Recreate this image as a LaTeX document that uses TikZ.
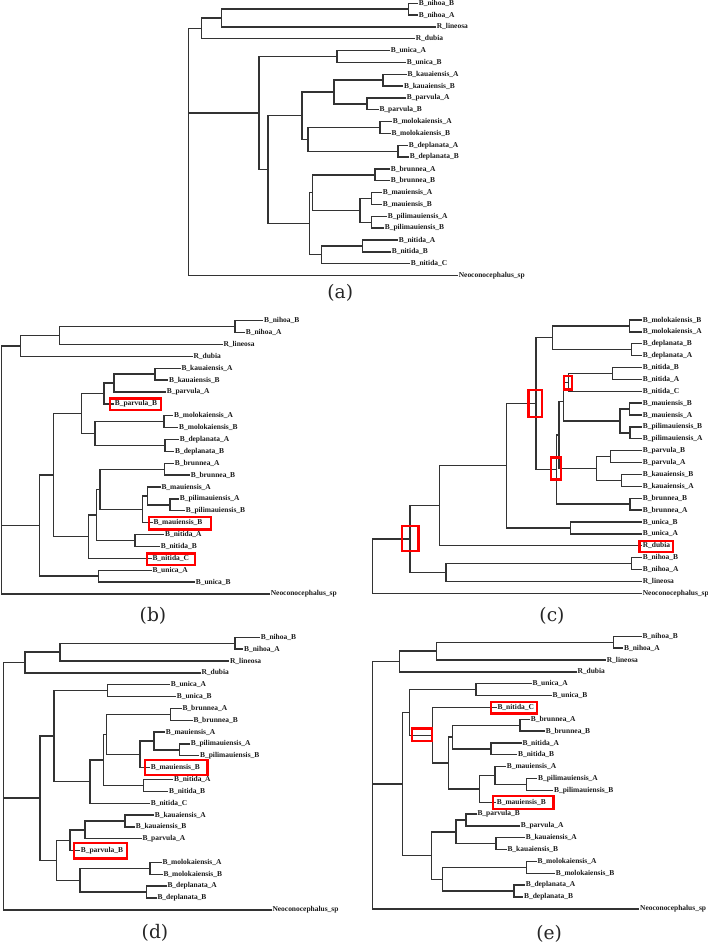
\documentclass[tikz,border=0pt]{standalone}
\usepackage{fontspec}
\setmainfont{Liberation Serif}
\newfontfamily\capfont{DejaVu Serif}
\usetikzlibrary{calc,fit}
\tikzset{
 br/.style={draw=black!80, line width=1pt},
 leaf/.style={anchor=west, inner sep=0.4pt, font=\bfseries\fontsize{5.6}{6}\selectfont, text=black!90},
 redbox/.style={draw=red, line width=1.8pt},
 captext/.style={font=\capfont\fontsize{14}{16}\selectfont, text=black!85},
}
\newcommand\lf[4]{\node[leaf] (#1) at (#3,{\Y+\D*#2}) {#4};}
\newcommand\cladenode[4]{%
 \coordinate (tmpx) at (#2,0);
 \coordinate (tmpm) at ($(#3)!.5!(#4)$);
 \coordinate (#1) at (tmpm -| tmpx);
 \draw[br] (#1) |- (#3) (#1) |- (#4);}
\begin{document}
\begin{tikzpicture}[x=0.75pt,y=-0.75pt]
\path[use as bounding box] (0,0) rectangle (707,945);
% ---------------- (a)
\def\Y{3.2}\def\D{11.84}
\lf{a0}{0}{418}{B\_nihoa\_B}
\lf{a1}{1}{418}{B\_nihoa\_A}
\lf{a2}{2}{436}{R\_lineosa}
\lf{a3}{3}{415}{R\_dubia}
\lf{a4}{4}{390}{B\_unica\_A}
\lf{a5}{5}{406}{B\_unica\_B}
\lf{a6}{6}{406.7}{B\_kauaiensis\_A}
\lf{a7}{7}{403.3}{B\_kauaiensis\_B}
\lf{a8}{8}{406}{B\_parvula\_A}
\lf{a9}{9}{378.7}{B\_parvula\_B}
\lf{a10}{10}{392}{B\_molokaiensis\_A}
\lf{a11}{11}{390.7}{B\_molokaiensis\_B}
\lf{a12}{12}{408}{B\_deplanata\_A}
\lf{a13}{13}{409}{B\_deplanata\_B}
\lf{a14}{14}{390}{B\_brunnea\_A}
\lf{a15}{15}{390}{B\_brunnea\_B}
\lf{a16}{16}{382}{B\_mauiensis\_A}
\lf{a17}{17}{382}{B\_mauiensis\_B}
\lf{a18}{18}{387}{B\_pilimauiensis\_A}
\lf{a19}{19}{384}{B\_pilimauiensis\_B}
\lf{a20}{20}{398}{B\_nitida\_A}
\lf{a21}{21}{391}{B\_nitida\_B}
\lf{a22}{22}{410}{B\_nitida\_C}
\lf{a23}{23}{458}{Neoconocephalus\_sp}
\cladenode{a-nih}{408.3}{a0}{a1}
\cladenode{a-nl}{221.7}{a-nih}{a2}
\cladenode{a-og}{201.7}{a-nl}{a3}
\cladenode{a-uni}{337}{a4}{a5}
\cladenode{a-kau}{383}{a6}{a7}
\cladenode{a-par}{367}{a8}{a9}
\cladenode{a-kp}{334}{a-kau}{a-par}
\cladenode{a-mol}{380}{a10}{a11}
\cladenode{a-dep}{398}{a12}{a13}
\cladenode{a-md}{308}{a-mol}{a-dep}
\cladenode{a-x}{302}{a-kp}{a-md}
\cladenode{a-bru}{375}{a14}{a15}
\cladenode{a-mau}{371.7}{a16}{a17}
\cladenode{a-pil}{371.7}{a18}{a19}
\cladenode{a-mp}{360}{a-mau}{a-pil}
\cladenode{a-q}{312.7}{a-bru}{a-mp}
\cladenode{a-nit}{362.7}{a20}{a21}
\cladenode{a-nc}{321.7}{a-nit}{a22}
\cladenode{a-p}{309.3}{a-q}{a-nc}
\cladenode{a-l}{268}{a-x}{a-p}
\cladenode{a-ing}{259}{a-uni}{a-l}
\cladenode{a-root}{188.3}{a-og}{a23}
\draw[br] (a-root) |- (a-ing);
\node[captext] (a-cap) at (340.3,293.3) {(a)};
% ---------------- (b)
\def\Y{320.7}\def\D{11.88}
\lf{b0}{0}{263.3}{B\_nihoa\_B}
\lf{b1}{1}{245}{B\_nihoa\_A}
\lf{b2}{2}{222.7}{R\_lineosa}
\lf{b3}{3}{192.7}{R\_dubia}
\lf{b4}{4}{180.7}{B\_kauaiensis\_A}
\lf{b5}{5}{168.3}{B\_kauaiensis\_B}
\lf{b6}{6}{166}{B\_parvula\_A}
\lf{b7}{7}{114}{B\_parvula\_B}
\lf{b8}{8}{173.3}{B\_molokaiensis\_A}
\lf{b9}{9}{178.3}{B\_molokaiensis\_B}
\lf{b10}{10}{179}{B\_deplanata\_A}
\lf{b11}{11}{174.3}{B\_deplanata\_B}
\lf{b12}{12}{174}{B\_brunnea\_A}
\lf{b13}{13}{190}{B\_brunnea\_B}
\lf{b14}{14}{160.7}{B\_mauiensis\_A}
\lf{b15}{15}{179}{B\_pilimauiensis\_A}
\lf{b16}{16}{185}{B\_pilimauiensis\_B}
\lf{b17}{17}{152.7}{B\_mauiensis\_B}
\lf{b18}{18}{164.3}{B\_nitida\_A}
\lf{b19}{19}{160}{B\_nitida\_B}
\lf{b20}{20}{151.7}{B\_nitida\_C}
\lf{b21}{21}{151.7}{B\_unica\_A}
\lf{b22}{22}{195}{B\_unica\_B}
\lf{b23}{23}{270}{Neoconocephalus\_sp}
\cladenode{b-nih}{235}{b0}{b1}
\cladenode{b-nl}{59.3}{b-nih}{b2}
\cladenode{b-og}{20.7}{b-nl}{b3}
\cladenode{b-kau}{155}{b4}{b5}
\cladenode{b-kp}{114}{b-kau}{b6}
\cladenode{b-kpp}{104}{b-kp}{b7}
\cladenode{b-mol}{164}{b8}{b9}
\cladenode{b-dep}{165}{b10}{b11}
\cladenode{b-md}{95}{b-mol}{b-dep}
\cladenode{b-a1}{81.7}{b-kpp}{b-md}
\cladenode{b-bru}{164.3}{b12}{b13}
\cladenode{b-pil}{170}{b15}{b16}
\cladenode{b-u}{147.7}{b14}{b-pil}
\cladenode{b-t}{142.7}{b-u}{b17}
\cladenode{b-s}{100}{b-bru}{b-t}
\cladenode{b-nit}{135}{b18}{b19}
\cladenode{b-r}{96.7}{b-s}{b-nit}
\cladenode{b-r2}{88.3}{b-r}{b20}
\cladenode{b-big}{53.3}{b-a1}{b-r2}
\cladenode{b-uni}{98.3}{b21}{b22}
\cladenode{b-ing}{39.3}{b-big}{b-uni}
\cladenode{b-root}{1.7}{b-og}{b23}
\draw[br] (b-root) |- (b-ing);
\draw[redbox] (110,398.3) rectangle (161,410);
\draw[redbox] (149,516.7) rectangle (210.7,529.3);
\draw[redbox] (146.7,553.3) rectangle (195,565);
\node[captext] (b-cap) at (153,616) {(b)};
% ---------------- (c)
\def\Y{320}\def\D{11.88}
\lf{c0}{0}{642}{B\_molokaiensis\_B}
\lf{c1}{1}{642}{B\_molokaiensis\_A}
\lf{c2}{2}{642}{B\_deplanata\_B}
\lf{c3}{3}{642}{B\_deplanata\_A}
\lf{c4}{4}{642}{B\_nitida\_B}
\lf{c5}{5}{642}{B\_nitida\_A}
\lf{c6}{6}{642}{B\_nitida\_C}
\lf{c7}{7}{642}{B\_mauiensis\_B}
\lf{c8}{8}{642}{B\_mauiensis\_A}
\lf{c9}{9}{642}{B\_pilimauiensis\_B}
\lf{c10}{10}{642}{B\_pilimauiensis\_A}
\lf{c11}{11}{642}{B\_parvula\_B}
\lf{c12}{12}{642}{B\_parvula\_A}
\lf{c13}{13}{642}{B\_kauaiensis\_B}
\lf{c14}{14}{642}{B\_kauaiensis\_A}
\lf{c15}{15}{642}{B\_brunnea\_B}
\lf{c16}{16}{642}{B\_brunnea\_A}
\lf{c17}{17}{642}{B\_unica\_B}
\lf{c18}{18}{642}{B\_unica\_A}
\lf{c19}{19}{642}{R\_dubia}
\lf{c20}{20}{642}{B\_nihoa\_B}
\lf{c21}{21}{642}{B\_nihoa\_A}
\lf{c22}{22}{642}{R\_lineosa}
\lf{c23}{23}{642}{Neoconocephalus\_sp}
\cladenode{c-mol}{629.3}{c0}{c1}
\cladenode{c-dep}{631.7}{c2}{c3}
\cladenode{c-md}{552.7}{c-mol}{c-dep}
\cladenode{c-nab}{612.3}{c4}{c5}
\cladenode{c-nit}{568.3}{c-nab}{c6}
\cladenode{c-mau}{629.3}{c7}{c8}
\cladenode{c-pil}{630}{c9}{c10}
\cladenode{c-mp}{620}{c-mau}{c-pil}
\cladenode{c-m}{563.3}{c-nit}{c-mp}
\cladenode{c-par}{610.7}{c11}{c12}
\cladenode{c-kau}{621.7}{c13}{c14}
\cladenode{c-pk}{596.7}{c-par}{c-kau}
\cladenode{c-n}{559}{c-m}{c-pk}
\cladenode{c-bru}{630}{c15}{c16}
\cladenode{c-o}{556.7}{c-n}{c-bru}
\cladenode{c-v}{536}{c-md}{c-o}
\cladenode{c-uni}{570.7}{c17}{c18}
\cladenode{c-y}{506.7}{c-v}{c-uni}
\cladenode{c-z}{439.3}{c-y}{c19}
\cladenode{c-nih}{631.7}{c20}{c21}
\cladenode{c-nl}{446}{c-nih}{c22}
\cladenode{c-aa}{410}{c-z}{c-nl}
\cladenode{c-root}{372.7}{c-aa}{c23}
\draw[redbox] (528.3,390) rectangle (541.7,416.7);
\draw[redbox] (564,376) rectangle (571.7,389.3);
\draw[redbox] (550.7,457.3) rectangle (561,479.3);
\draw[redbox] (401.7,526) rectangle (418.3,550.7);
\draw[redbox] (639.3,540.7) rectangle (672.7,551.7);
\node[captext] (c-cap) at (552,616) {(c)};
% ---------------- (d)
\def\Y{637.3}\def\D{11.85}
\lf{d0}{0}{260}{B\_nihoa\_B}
\lf{d1}{1}{243.3}{B\_nihoa\_A}
\lf{d2}{2}{229.3}{R\_lineosa}
\lf{d3}{3}{200.7}{R\_dubia}
\lf{d4}{4}{170}{B\_unica\_A}
\lf{d5}{5}{176}{B\_unica\_B}
\lf{d6}{6}{181.7}{B\_brunnea\_A}
\lf{d7}{7}{192.7}{B\_brunnea\_B}
\lf{d8}{8}{165}{B\_mauiensis\_A}
\lf{d9}{9}{190}{B\_pilimauiensis\_A}
\lf{d10}{10}{199.3}{B\_pilimauiensis\_B}
\lf{d11}{11}{150}{B\_mauiensis\_B}
\lf{d12}{12}{173.3}{B\_nitida\_A}
\lf{d13}{13}{168.3}{B\_nitida\_B}
\lf{d14}{14}{150}{B\_nitida\_C}
\lf{d15}{15}{154}{B\_kauaiensis\_A}
\lf{d16}{16}{135}{B\_kauaiensis\_B}
\lf{d17}{17}{141.7}{B\_parvula\_A}
\lf{d18}{18}{80}{B\_parvula\_B}
\lf{d19}{19}{161.7}{B\_molokaiensis\_A}
\lf{d20}{20}{162.7}{B\_molokaiensis\_B}
\lf{d21}{21}{166.7}{B\_deplanata\_A}
\lf{d22}{22}{156.7}{B\_deplanata\_B}
\lf{d23}{23}{271.7}{Neoconocephalus\_sp}
\cladenode{d-nih}{235}{d0}{d1}
\cladenode{d-nl}{60}{d-nih}{d2}
\cladenode{d-og}{25}{d-nl}{d3}
\cladenode{d-uni}{107.3}{d4}{d5}
\cladenode{d-bru}{170.7}{d6}{d7}
\cladenode{d-pil}{179.3}{d9}{d10}
\cladenode{d-mp}{154}{d8}{d-pil}
\cladenode{d-m2}{140}{d-mp}{d11}
\cladenode{d-b1}{106.7}{d-bru}{d-m2}
\cladenode{d-nit}{143.3}{d12}{d13}
\cladenode{d-b2}{103.3}{d-b1}{d-nit}
\cladenode{d-b3}{90}{d-b2}{d14}
\cladenode{d-top}{54}{d-uni}{d-b3}
\cladenode{d-kau}{125}{d15}{d16}
\cladenode{d-kp}{85}{d-kau}{d17}
\cladenode{d-kpp}{70}{d-kp}{d18}
\cladenode{d-mol}{150}{d19}{d20}
\cladenode{d-dep}{146.7}{d21}{d22}
\cladenode{d-md}{80}{d-mol}{d-dep}
\cladenode{d-bot}{56.7}{d-kpp}{d-md}
\cladenode{d-ing}{40}{d-top}{d-bot}
\cladenode{d-root}{3.3}{d-og}{d23}
\draw[br] (d-root) |- (d-ing);
\draw[redbox] (145,760) rectangle (207.3,775);
\draw[redbox] (74,842.7) rectangle (126.7,858.3);
\node[captext] (d-cap) at (155,933.3) {(d)};
% ---------------- (e)
\def\Y{636.3}\def\D{11.85}
\lf{e0}{0}{641.7}{B\_nihoa\_B}
\lf{e1}{1}{623.3}{B\_nihoa\_A}
\lf{e2}{2}{606}{R\_lineosa}
\lf{e3}{3}{576.7}{R\_dubia}
\lf{e4}{4}{531.7}{B\_unica\_A}
\lf{e5}{5}{551.7}{B\_unica\_B}
\lf{e6}{6}{496.7}{B\_nitida\_C}
\lf{e7}{7}{530}{B\_brunnea\_A}
\lf{e8}{8}{545}{B\_brunnea\_B}
\lf{e9}{9}{521.7}{B\_nitida\_A}
\lf{e10}{10}{517.3}{B\_nitida\_B}
\lf{e11}{11}{506}{B\_mauiensis\_A}
\lf{e12}{12}{537.3}{B\_pilimauiensis\_A}
\lf{e13}{13}{553.3}{B\_pilimauiensis\_B}
\lf{e14}{14}{496}{B\_mauiensis\_B}
\lf{e15}{15}{476.7}{B\_parvula\_B}
\lf{e16}{16}{520}{B\_parvula\_A}
\lf{e17}{17}{525}{B\_kauaiensis\_A}
\lf{e18}{18}{506.7}{B\_kauaiensis\_B}
\lf{e19}{19}{536.7}{B\_molokaiensis\_A}
\lf{e20}{20}{555}{B\_molokaiensis\_B}
\lf{e21}{21}{525}{B\_deplanata\_A}
\lf{e22}{22}{523.3}{B\_deplanata\_B}
\lf{e23}{23}{639.3}{Neoconocephalus\_sp}
\cladenode{e-nih}{613.3}{e0}{e1}
\cladenode{e-nl}{436.7}{e-nih}{e2}
\cladenode{e-og}{399.3}{e-nl}{e3}
\cladenode{e-uni}{476}{e4}{e5}
\cladenode{e-bru}{520}{e7}{e8}
\cladenode{e-nit}{491}{e9}{e10}
\cladenode{e-bn}{452.7}{e-bru}{e-nit}
\cladenode{e-pil}{526.7}{e12}{e13}
\cladenode{e-mp}{495}{e11}{e-pil}
\cladenode{e-m2}{479.3}{e-mp}{e14}
\cladenode{e-c1}{448.3}{e-bn}{e-m2}
\cladenode{e-c2}{432.7}{e6}{e-c1}
\cladenode{e-c3}{409.3}{e-uni}{e-c2}
\cladenode{e-par}{466}{e15}{e16}
\cladenode{e-kau}{496}{e17}{e18}
\cladenode{e-pk}{456}{e-par}{e-kau}
\cladenode{e-mol}{526.7}{e19}{e20}
\cladenode{e-dep}{514}{e21}{e22}
\cladenode{e-md}{442.7}{e-mol}{e-dep}
\cladenode{e-c4}{431.7}{e-pk}{e-md}
\cladenode{e-ing}{402.7}{e-c3}{e-c4}
\cladenode{e-root}{372.7}{e-og}{e23}
\draw[br] (e-root) |- (e-ing);
\draw[redbox] (490.7,701.7) rectangle (536.7,713.3);
\draw[redbox] (411.7,728.3) rectangle (431.7,740.7);
\draw[redbox] (492.7,796) rectangle (553.3,809);
\node[captext] (e-cap) at (549.2,934) {(e)};
\end{tikzpicture}
\end{document}
